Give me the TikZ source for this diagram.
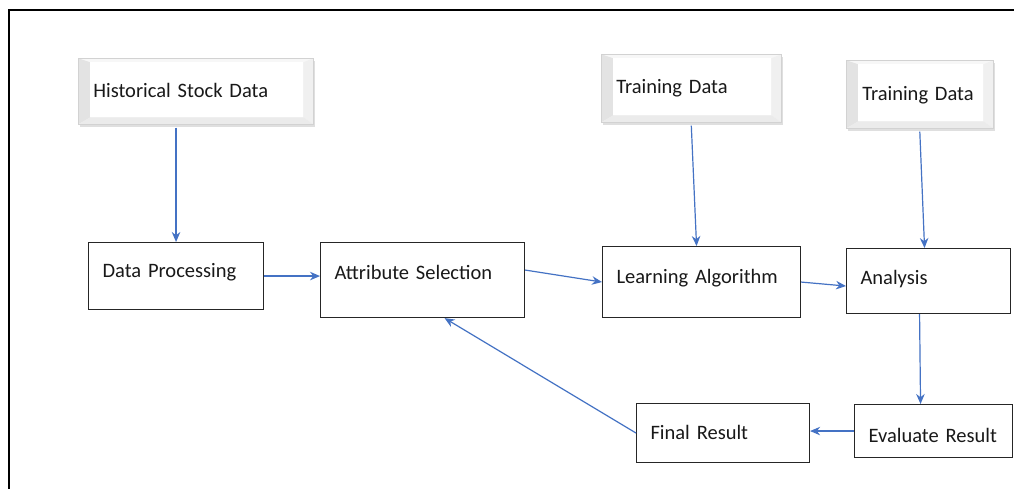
\documentclass[tikz,border=0pt]{standalone}
\usepackage{fontspec}
\setmainfont[WordSpace=0.85]{Carlito}
\usetikzlibrary{arrows.meta,shadows}
\definecolor{arrowblue}{RGB}{68,114,196}
\definecolor{txt}{RGB}{25,25,25}
\begin{document}
\begin{tikzpicture}[x=1pt,y=-1pt,
  every node/.style={font=\fontsize{20.5}{24}\selectfont, text=txt},
  box/.style={draw=black!85, line width=1.1pt, fill=white, anchor=north west,
    align=left, inner xsep=14pt, inner ysep=0pt},
  bevel/.style={anchor=north west, align=left, inner xsep=15pt, inner ysep=0pt,
    fill=gray!6, draw=gray!35, line width=0.6pt,
    drop shadow={shadow xshift=1.5pt, shadow yshift=-2.5pt, opacity=0.25, fill=gray},
    path picture={
      \coordinate (bNW) at (path picture bounding box.north west);
      \coordinate (bNE) at (path picture bounding box.north east);
      \coordinate (bSE) at (path picture bounding box.south east);
      \coordinate (bSW) at (path picture bounding box.south west);
      \coordinate (iNW) at ([shift={(12,4)}]bNW);
      \coordinate (iNE) at ([shift={(-10,4)}]bNE);
      \coordinate (iSE) at ([shift={(-10,-7)}]bSE);
      \coordinate (iSW) at ([shift={(12,-7)}]bSW);
      \fill[gray!6] (bNW) -- (bNE) -- (iNE) -- (iNW) -- cycle;
      \fill[gray!22] (bNW) -- (iNW) -- (iSW) -- (bSW) -- cycle;
      \fill[gray!12] (bNE) -- (bSE) -- (iSE) -- (iNE) -- cycle;
      \fill[gray!16] (bSW) -- (bSE) -- (iSE) -- (iSW) -- cycle;
      \fill[white] (iNW) rectangle (iSE);
    }},
  arr/.style={draw=arrowblue, line width=1.2pt, -{Stealth[length=10pt,width=8.5pt]}}
]
\useasboundingbox (0,0) rectangle (1014,489);
\fill[white] (0,0) rectangle (1014,489);
\draw[line width=2pt] (1014,10) -- (9,10) -- (9,489);

% beveled input boxes
\node[bevel, text width=205pt, text height=39pt, text depth=27pt] (hist) at (78,58) {Historical Stock Data};
\node[bevel, text width=150pt, text height=39pt, text depth=29pt] (td1) at (601,54) {Training Data};
\node[bevel, inner xsep=16pt, text width=115pt, text height=40pt, text depth=28pt] (td2) at (846,60) {Training Data};

% process boxes
\node[box, text width=147pt, text height=35pt, text depth=32pt] (dp) at (88,242) {Data Processing};
\node[box, text width=176pt, text height=37pt, text depth=38pt] (as) at (320,242) {Attribute Selection};
\node[box, text width=170pt, text height=37pt, text depth=34pt] (la) at (602,246) {Learning Algorithm};
\node[box, text width=136pt, text height=36pt, text depth=29pt] (an) at (846,248) {Analysis};
\node[box, text width=145pt, text height=36pt, text depth=23pt] (fr) at (636,403) {Final Result};
\node[box, text width=130pt, text height=38pt, text depth=15pt] (ev) at (854,404) {Evaluate Result};

% connectors
\draw[arr] ([yshift=-3pt]dp.north |- hist.south) -- (dp.north);
\draw[arr] ([yshift=-3pt]td1.south) -- ([xshift=-5pt]la.north);
\draw[arr] ([yshift=-3pt]td2.south) -- ([xshift=-4pt]an.north);
\draw[arr] (dp.east) -- (dp.east -| as.west);
\draw[arr] ([yshift=10pt]as.east) -- (la.west);
\draw[arr] (la.east) -- ([yshift=-5pt]an.west);
\draw[arr] ([xshift=-9pt]an.south) -- ([xshift=-13pt]ev.north);
\draw[arr] (ev.west) -- (ev.west -| fr.east);
\draw[arr] (fr.west) -- ([xshift=22pt]as.south);
\end{tikzpicture}
\end{document}
